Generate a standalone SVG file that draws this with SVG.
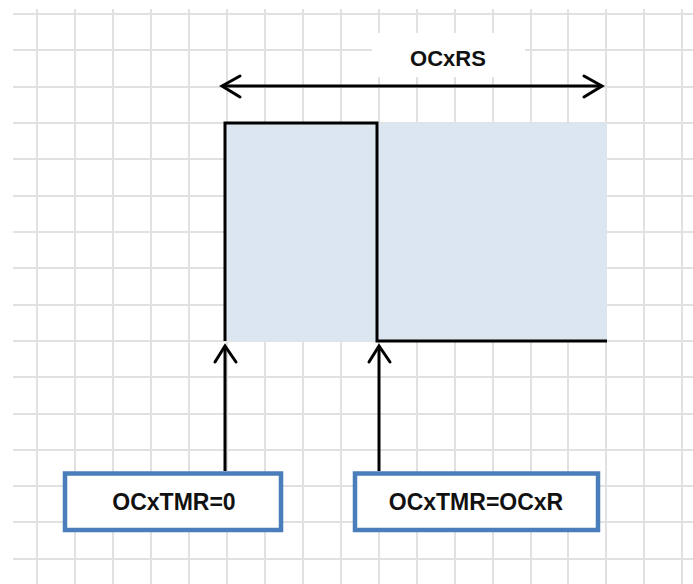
<svg xmlns="http://www.w3.org/2000/svg" width="693" height="584" viewBox="0 0 693 584">
<style>
.grid line{stroke:#e1e1e1;stroke-width:2}
.sig{fill:none;stroke:#000;stroke-width:3;stroke-linejoin:miter}
.conn{fill:none;stroke:#000;stroke-width:3}
.head{fill:none;stroke:#000;stroke-width:3;stroke-linecap:round;stroke-linejoin:miter}
.box{fill:#fff;stroke:#4a7ebb;stroke-width:4.5}
.lbl{font-family:"Liberation Sans",Arial,sans-serif;font-weight:bold;fill:#111;text-anchor:middle}
</style>
<rect width="693" height="584" fill="#fff"/>
<g class="grid">
<line x1="37" y1="9" x2="37" y2="584"/><line x1="75" y1="9" x2="75" y2="584"/><line x1="113" y1="9" x2="113" y2="584"/><line x1="151" y1="9" x2="151" y2="584"/><line x1="189" y1="9" x2="189" y2="584"/><line x1="227" y1="9" x2="227" y2="584"/><line x1="265" y1="9" x2="265" y2="584"/><line x1="303" y1="9" x2="303" y2="584"/><line x1="341" y1="9" x2="341" y2="584"/><line x1="379" y1="9" x2="379" y2="584"/><line x1="417" y1="9" x2="417" y2="584"/><line x1="455" y1="9" x2="455" y2="584"/><line x1="493" y1="9" x2="493" y2="584"/><line x1="531" y1="9" x2="531" y2="584"/><line x1="568" y1="9" x2="568" y2="584"/><line x1="606" y1="9" x2="606" y2="584"/><line x1="644" y1="9" x2="644" y2="584"/><line x1="682" y1="9" x2="682" y2="584"/>
<line x1="13" y1="14" x2="693" y2="14"/><line x1="13" y1="50" x2="693" y2="50"/><line x1="13" y1="87" x2="693" y2="87"/><line x1="13" y1="123" x2="693" y2="123"/><line x1="13" y1="159" x2="693" y2="159"/><line x1="13" y1="196" x2="693" y2="196"/><line x1="13" y1="232" x2="693" y2="232"/><line x1="13" y1="268" x2="693" y2="268"/><line x1="13" y1="305" x2="693" y2="305"/><line x1="13" y1="341" x2="693" y2="341"/><line x1="13" y1="377" x2="693" y2="377"/><line x1="13" y1="414" x2="693" y2="414"/><line x1="13" y1="450" x2="693" y2="450"/><line x1="13" y1="486" x2="693" y2="486"/><line x1="13" y1="522" x2="693" y2="522"/><line x1="13" y1="559" x2="693" y2="559"/>
</g>
<rect x="372" y="33" width="153" height="44" fill="#fff"/>
<g id="window">
<rect x="225" y="123" width="382" height="218" fill="#dce6f1"/>
<path class="sig" d="M225,341 V123 H377 V341 H607"/>
</g>
<g id="ocxrs">
<text class="lbl" x="448" y="66" font-size="22">OCxRS</text>
</g>
<g id="connectors">
<line class="conn" x1="223" y1="86" x2="602" y2="86"/>
<path class="head" d="M240,76 L222,86 L240,97"/>
<path class="head" d="M584,76 L602,86 L584,97"/>
<line class="conn" x1="225" y1="346" x2="225" y2="471"/>
<path class="head" d="M215,362 L225,346 L236,362"/>
<line class="conn" x1="379" y1="346" x2="379" y2="471"/>
<path class="head" d="M369,362 L379,346 L390,362"/>
</g>
<g id="box1">
<rect class="box" x="65" y="473.5" width="216" height="56.5"/>
<text class="lbl" x="174" y="510" font-size="23">OCxTMR=0</text>
</g>
<g id="box2">
<rect class="box" x="355" y="473.5" width="243" height="56.5"/>
<text class="lbl" x="476" y="510" font-size="23">OCxTMR=OCxR</text>
</g>
</svg>
